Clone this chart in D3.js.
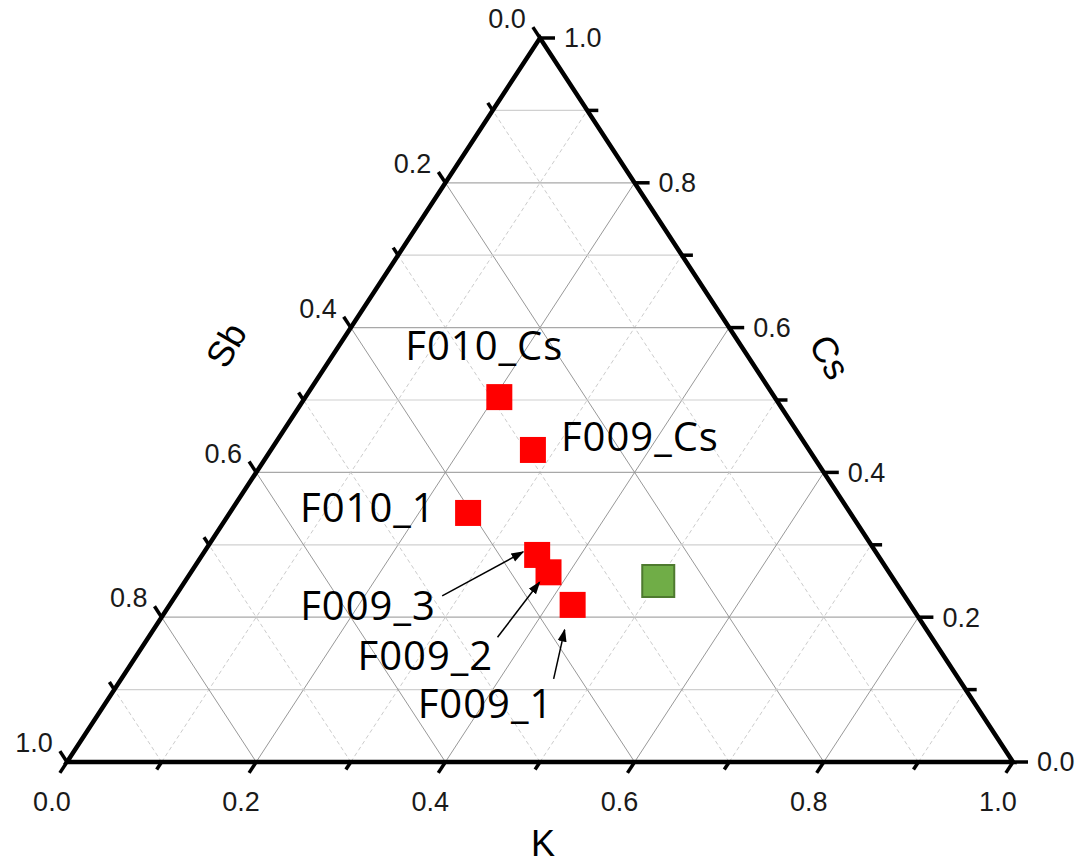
<!DOCTYPE html>
<html>
<head>
<meta charset="utf-8">
<script src="https://cdn.jsdelivr.net/npm/d3@7"></script>
<style>
  body { margin: 0; background: #fff; }
  svg { display: block; }
</style>
</head>
<body>
<svg id="chart" width="1084" height="867"></svg>
<script>
// sample compositions (fractions K / Sb / Cs)
var names = ["F010_Cs", "F009_Cs", "F010_1", "F009_3", "F009_2", "F009_1"];
var kVals  = [0.205, 0.277, 0.252, 0.354, 0.378, 0.426];
var sbVals = [0.291, 0.292, 0.404, 0.360, 0.360, 0.357];
var csVals = [0.504, 0.431, 0.344, 0.286, 0.262, 0.217];

// reference composition (green square)
var refK = [0.50], refSb = [0.25], refCs = [0.25];

var tickVals = d3.range(0, 11).map(function (i) { return i / 10; });
var tickLabels = ["0.0", "0.2", "0.4", "0.6", "0.8", "1.0"];

// label placement, pixel offsets from the marker centre
var labelOff = [[-94, -37], [28, 1], [-168, 9], [-237, 65], [-191, 98], [-155, 113]];
// arrows: [tail dx, tail dy, head dx, head dy] (null = no arrow)
var arrowOff = [null, null, null, [-95, 41, -14, -3], [-51, 65, -9, 10], [-19, 74, -8, 25]];

var svg = d3.select("#chart");

var x = d3.scaleLinear().domain([0, 1]).range([67, 1013]);
var y = d3.scaleLinear().domain([0, 1]).range([762, 38]);

function px(k, cs) { return x(k + cs / 2); }
function py(cs) { return y(cs); }

// unit directions for tick marks
var dK  = [-0.547, 0.837];   // down-left (bottom axis)
var dSb = [-0.547, -0.837];  // up-left (left axis)
var dCs = [1, 0];            // right (right axis)

var grid = svg.append("g").attr("class", "grid");
tickVals.slice(1, 10).forEach(function (v, i) {
  var major = (i + 1) % 2 === 0;
  // constant Cs (horizontal)
  grid.append("line")
    .attr("x1", px(0, v)).attr("y1", py(v))
    .attr("x2", px(1 - v, v)).attr("y2", py(v))
    .attr("stroke", major ? "#a8a8a8" : "#d0d0d0")
    .attr("stroke-width", 1.2);
  // constant K
  grid.append("line")
    .attr("x1", px(v, 0)).attr("y1", py(0))
    .attr("x2", px(v, 1 - v)).attr("y2", py(1 - v))
    .attr("stroke", major ? "#8c8c8c" : "#cccccc")
    .attr("stroke-width", major ? 0.9 : 1)
    .attr("stroke-dasharray", major ? null : "4,3");
  // constant Sb
  grid.append("line")
    .attr("x1", px(1 - v, 0)).attr("y1", py(0))
    .attr("x2", px(0, 1 - v)).attr("y2", py(1 - v))
    .attr("stroke", major ? "#8c8c8c" : "#cccccc")
    .attr("stroke-width", major ? 0.9 : 1)
    .attr("stroke-dasharray", major ? null : "4,3");
});

// ticks + labels
var axes = svg.append("g").attr("class", "axes");
tickVals.forEach(function (t, i) {
  var major = i % 2 === 0;
  var len = major ? 13 : 9;
  var lab = major ? tickLabels[i / 2] : null;

  // K (bottom)
  var bx = px(t, 0), by = py(0);
  axes.append("line")
    .attr("x1", bx).attr("y1", by)
    .attr("x2", bx + dK[0] * len).attr("y2", by + dK[1] * len)
    .attr("stroke", "#000").attr("stroke-width", 3.5);
  if (lab) axes.append("text")
    .attr("x", bx + dK[0] * len - 8).attr("y", by + dK[1] * len + 38)
    .attr("text-anchor", "middle").attr("class", "tick").text(lab);

  // Sb (left edge): K = 0, Cs = 1 - t
  var lx = px(0, 1 - t), ly = py(1 - t);
  axes.append("line")
    .attr("x1", lx).attr("y1", ly)
    .attr("x2", lx + dSb[0] * len).attr("y2", ly + dSb[1] * len)
    .attr("stroke", "#000").attr("stroke-width", 3.5);
  if (lab) axes.append("text")
    .attr("x", lx + dSb[0] * len - 7).attr("y", ly + dSb[1] * len + 1)
    .attr("text-anchor", "end").attr("class", "tick").text(lab);

  // Cs (right edge): Sb = 0, K = 1 - t
  var rx = px(1 - t, t), ry = py(t);
  axes.append("line")
    .attr("x1", rx).attr("y1", ry)
    .attr("x2", rx + dCs[0] * (len + 2)).attr("y2", ry)
    .attr("stroke", "#000").attr("stroke-width", 3.5);
  if (lab) axes.append("text")
    .attr("x", rx + 24).attr("y", ry)
    .attr("dy", "0.35em")
    .attr("text-anchor", "start").attr("class", "tick").text(lab);
});

axes.selectAll("text.tick")
  .style("font-family", "Liberation Sans, Arial, sans-serif")
  .style("font-size", "27px")
  .attr("fill", "#1a1a1a");

// triangle frame
var corners = [[0, 0], [1, 0], [0, 1]];
svg.append("path")
  .attr("d", d3.line()(corners.map(function (c) { return [px(c[0], c[1]), py(c[1])]; })) + "Z")
  .attr("fill", "none")
  .attr("stroke", "#000")
  .attr("stroke-width", 4.5)
  .attr("stroke-linejoin", "miter");

// axis titles
var titleFont = "Liberation Sans, Arial, sans-serif";
svg.append("text").attr("x", 543).attr("y", 856)
  .attr("text-anchor", "middle").style("font-family", titleFont).style("font-size", "36px").text("K");
svg.append("text").attr("transform", "translate(226,345) rotate(-60)")
  .attr("text-anchor", "middle").attr("dy", "0.35em")
  .style("font-family", titleFont).style("font-size", "36px").text("Sb");
svg.append("text").attr("transform", "translate(830,357) rotate(60)")
  .attr("text-anchor", "middle").attr("dy", "0.35em")
  .style("font-family", titleFont).style("font-size", "36px").text("Cs");

// arrowhead
svg.append("defs").append("marker")
  .attr("id", "arr").attr("viewBox", "0 0 10 10")
  .attr("refX", 9).attr("refY", 5)
  .attr("markerWidth", 13).attr("markerHeight", 13)
  .attr("markerUnits", "userSpaceOnUse")
  .attr("orient", "auto")
  .append("path").attr("d", "M0,1.5 L10,5 L0,8.5 Z").attr("fill", "#000");

var pts = names.map(function (n, i) {
  return { name: n, cx: px(kVals[i], csVals[i]), cy: py(csVals[i]), lab: labelOff[i], arr: arrowOff[i] };
});

// reference marker
svg.selectAll("rect.ref")
  .data(refK.map(function (k, i) { return { cx: px(k, refCs[i]), cy: py(refCs[i]) }; }))
  .enter().append("rect")
  .attr("class", "ref")
  .attr("x", function (d) { return d.cx - 16; })
  .attr("y", function (d) { return d.cy - 16; })
  .attr("width", 32).attr("height", 32)
  .attr("fill", "#70ad47")
  .attr("stroke", "#4e7a2f")
  .attr("stroke-width", 2);

// sample markers
svg.selectAll("rect.pt")
  .data(pts)
  .enter().append("rect")
  .attr("class", "pt")
  .attr("x", function (d) { return d.cx - 13; })
  .attr("y", function (d) { return d.cy - 13; })
  .attr("width", 26).attr("height", 26)
  .attr("fill", "#ff0000");

// arrows
svg.selectAll("line.arrow")
  .data(pts.filter(function (d) { return d.arr; }))
  .enter().append("line")
  .attr("class", "arrow")
  .attr("x1", function (d) { return d.cx + d.arr[0]; })
  .attr("y1", function (d) { return d.cy + d.arr[1]; })
  .attr("x2", function (d) { return d.cx + d.arr[2]; })
  .attr("y2", function (d) { return d.cy + d.arr[3]; })
  .attr("stroke", "#000").attr("stroke-width", 1.5)
  .attr("marker-end", "url(#arr)");

// labels
svg.selectAll("text.lab")
  .data(pts)
  .enter().append("text")
  .attr("class", "lab")
  .attr("x", function (d) { return d.cx + d.lab[0]; })
  .attr("y", function (d) { return d.cy + d.lab[1]; })
  .style("font-family", "Open Sans, sans-serif")
  .style("font-size", "40px")
  .style("letter-spacing", "1px")
  .attr("fill", "#000")
  .text(function (d) { return d.name; });
</script>
</body>
</html>
